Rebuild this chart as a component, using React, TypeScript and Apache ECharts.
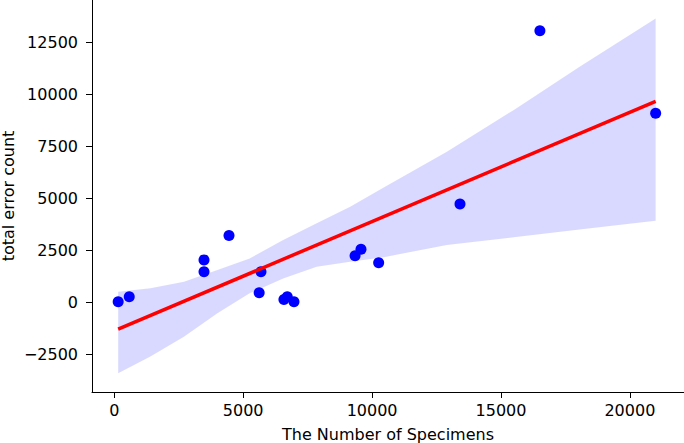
import React, { useEffect, useRef } from "react";
import * as echarts from "echarts";

// Scatter points (number of specimens, total error count)
const pointsX = [150, 580, 3480, 3480, 4450, 5690, 5620, 6580, 6710, 6970, 9340, 9570, 10255, 13410, 16510, 21000];
const pointsY = [30, 270, 2040, 1470, 3210, 1470, 460, 140, 270, 30, 2240, 2550, 1900, 4730, 13060, 9090];

// Regression line endpoints
const lineX = [150, 21000];
const lineY = [-1290, 9660];

// Confidence band
const bandX = [150, 1400, 2700, 4000, 5250, 6550, 7850, 9150, 10450, 12900, 15500, 18050, 21000];
const bandUpper = [510, 670, 990, 1550, 2110, 2990, 3800, 4600, 5520, 7240, 9250, 11330, 13650];
const bandLower = [-3410, -2610, -1650, -530, 430, 1150, 1710, 1950, 2170, 2750, 3130, 3500, 3920];

// Tick labels
const xTicks = [0, 5000, 10000, 15000, 20000];
const yTicks = [-2500, 0, 2500, 5000, 7500, 10000, 12500];

const FONT = "DejaVu Sans";
const fmt = (v: number) => String(v).replace("-", "\u2212");

export default function App() {
  const ref = useRef<HTMLDivElement>(null);
  useEffect(() => {
    if (!ref.current) return;
    const chart = echarts.init(ref.current, null, { renderer: "svg" });
    chart.setOption({
      animation: false,
      backgroundColor: "#ffffff",
      grid: { left: 92, right: 0, top: 0, bottom: 51, containLabel: false, outerBoundsMode: "none" },
      xAxis: {
        type: "value",
        min: -865,
        max: 22100,
        name: "The Number of Specimens",
        nameLocation: "middle",
        nameGap: 34,
        nameMoveOverlap: false,
        nameTextStyle: { fontFamily: FONT, fontSize: 16, color: "#000" },
        splitLine: { show: false },
        axisLine: { show: true, onZero: false, lineStyle: { color: "#000", width: 1 } },
        axisTick: { show: true, length: 6, lineStyle: { color: "#000" }, customValues: xTicks },
        axisLabel: {
          fontFamily: FONT,
          fontSize: 16,
          color: "#000",
          margin: 10,
          customValues: xTicks,
          formatter: (v: number) => fmt(v),
        },
      },
      yAxis: {
        type: "value",
        min: -4312,
        max: 14534,
        name: "total error count",
        nameLocation: "middle",
        nameGap: 76,
        nameMoveOverlap: false,
        nameTextStyle: { fontFamily: FONT, fontSize: 16, color: "#000" },
        splitLine: { show: false },
        axisLine: { show: true, onZero: false, lineStyle: { color: "#000", width: 1 } },
        axisTick: { show: true, length: 6, lineStyle: { color: "#000" }, customValues: yTicks },
        axisLabel: {
          fontFamily: FONT,
          fontSize: 16,
          color: "#000",
          margin: 14,
          customValues: yTicks,
          formatter: (v: number) => fmt(v),
        },
      },
      series: [
        {
          type: "custom",
          silent: true,
          z: 1,
          data: [[bandX[0], bandLower[0]]],
          encode: { x: 0, y: 1 },
          renderItem: (_params: any, api: any) => {
            const pts: number[][] = [];
            for (let i = 0; i < bandX.length; i++) pts.push(api.coord([bandX[i], bandUpper[i]]));
            for (let i = bandX.length - 1; i >= 0; i--) pts.push(api.coord([bandX[i], bandLower[i]]));
            return {
              type: "polygon",
              shape: { points: pts },
              style: { fill: "rgba(0,0,255,0.15)", stroke: "none" },
            };
          },
        },
        {
          type: "scatter",
          z: 2,
          symbolSize: 11,
          itemStyle: { color: "#0000ff", opacity: 1 },
          data: pointsX.map((x, i) => [x, pointsY[i]]),
        },
        {
          type: "line",
          z: 3,
          showSymbol: false,
          symbol: "none",
          lineStyle: { color: "#ff0000", width: 3.5 },
          data: lineX.map((x, i) => [x, lineY[i]]),
        },
      ],
    });
    return () => chart.dispose();
  }, []);
  return (
    <div
      ref={ref}
      style={{ position: "fixed", left: 0, top: 0, width: 684, height: 443, background: "#fff" }}
    />
  );
}
